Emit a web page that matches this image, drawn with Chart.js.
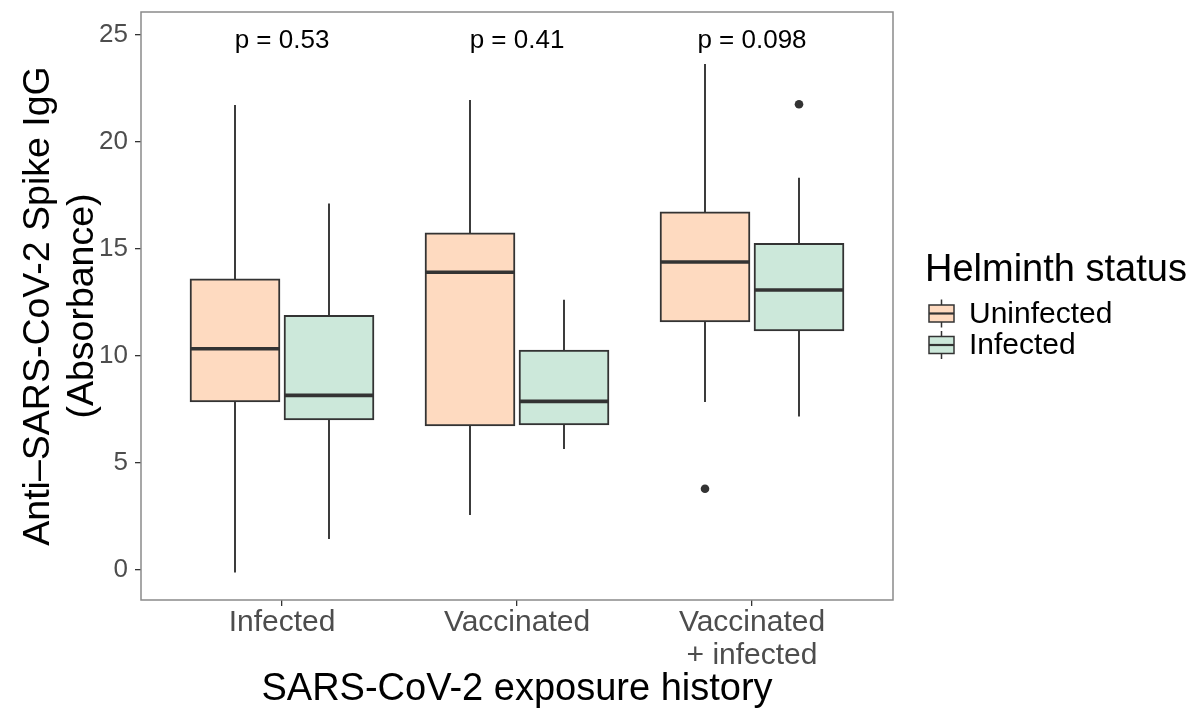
<!DOCTYPE html>
<html>
<head>
<meta charset="utf-8">
<script src="https://cdn.jsdelivr.net/npm/chart.js@4.4.1/dist/chart.umd.min.js"></script>
<style>
  html, body { margin: 0; padding: 0; background: #fff; }
</style>
</head>
<body>
<canvas id="chart" width="1198" height="711"></canvas>
<script>
// exposure groups on the x axis
const groups = ['Infected', 'Vaccinated', ['Vaccinated', '+ infected']];
const seriesNames = ['Uninfected', 'Infected'];
const seriesColors = ['#FEDAC0', '#CCE8DA'];

// Uninfected (helminth) box stats, one entry per exposure group
const uninfLow = [-0.12, 2.57, 7.85];
const uninfQ1 = [7.85, 6.73, 11.59];
const uninfMedian = [10.34, 13.91, 14.39];
const uninfQ3 = [13.6, 15.75, 16.73];
const uninfHigh = [21.73, 21.96, 23.64];
const uninfOutliers = [[], [], [3.8]];

// Infected (helminth) box stats
const infLow = [1.45, 5.65, 7.17];
const infQ1 = [7.01, 6.78, 11.17];
const infMedian = [8.16, 7.88, 13.08];
const infQ3 = [11.9, 10.28, 15.26];
const infHigh = [17.12, 12.63, 18.33];
const infOutliers = [[], [], [21.76]];

const pValues = ['p = 0.53', 'p = 0.41', 'p = 0.098'];
const pLabelY = 24.7;
const yTicks = [0, 5, 10, 15, 20, 25];

const FONT = "'Liberation Sans', Arial, Helvetica, sans-serif";
const dodge = 0.2;
const boxLine = '#333333';

function boxDataset(k, q1, med, q3, low, high) {
    const shift = k === 0 ? -dodge : dodge;
    return {
        label: seriesNames[k],
        data: groups.map((g, i) => ({ x: i + shift, y: [q1[i], q3[i]] })),
        backgroundColor: seriesColors[k],
        borderColor: boxLine,
        borderWidth: 2,
        borderSkipped: false,
        grouped: false,
        barPercentage: 1,
        categoryPercentage: 1,
        maxBarThickness: 90,
        stats: { low, q1, med, q3, high },
        order: 2,
    };
}

function outlierDataset(k, outliers) {
    const shift = k === 0 ? -dodge : dodge;
    return {
        type: 'scatter',
        label: seriesNames[k] + ' outliers',
        data: outliers.flatMap((arr, i) => arr.map(v => ({ x: i + shift, y: v }))),
        backgroundColor: boxLine,
        borderWidth: 0,
        pointRadius: 4.3,
        order: 1,
    };
}

const boxParts = {
    id: 'boxParts',
    afterDatasetsDraw(chart) {
        const { ctx, scales: { y } } = chart;
        ctx.save();
        ctx.strokeStyle = boxLine;
        chart.data.datasets.forEach((ds, di) => {
            if (!ds.stats) return;
            const s = ds.stats;
            chart.getDatasetMeta(di).data.forEach((bar, i) => {
                const cx = bar.x;
                const half = bar.width / 2;
                ctx.lineWidth = 1.9;
                ctx.beginPath();
                ctx.moveTo(cx, y.getPixelForValue(s.high[i]));
                ctx.lineTo(cx, y.getPixelForValue(s.q3[i]));
                ctx.moveTo(cx, y.getPixelForValue(s.q1[i]));
                ctx.lineTo(cx, y.getPixelForValue(s.low[i]));
                ctx.stroke();
                const ym = y.getPixelForValue(s.med[i]);
                ctx.lineWidth = 3.6;
                ctx.beginPath();
                ctx.moveTo(cx - half + 1, ym);
                ctx.lineTo(cx + half - 1, ym);
                ctx.stroke();
            });
        });
        // p-value labels above each group
        ctx.fillStyle = '#000';
        ctx.font = '26px ' + FONT;
        ctx.textAlign = 'center';
        ctx.textBaseline = 'middle';
        pValues.forEach((p, i) => {
            ctx.fillText(p, chart.scales.x.getPixelForValue(i), y.getPixelForValue(pLabelY));
        });
        ctx.restore();
    },
    afterDraw(chart) {
        const { ctx, chartArea: a } = chart;
        ctx.save();
        // panel border
        ctx.strokeStyle = '#8A8A8A';
        ctx.lineWidth = 1.5;
        ctx.strokeRect(a.left, a.top, a.right - a.left, a.bottom - a.top);

        // legend
        ctx.fillStyle = '#000';
        ctx.font = '38px ' + FONT;
        ctx.textAlign = 'left';
        ctx.textBaseline = 'alphabetic';
        ctx.fillText('Helminth status', 925, 281);
        ctx.font = '30px ' + FONT;
        ctx.textBaseline = 'middle';
        seriesNames.forEach((name, k) => {
            const cy = 313.5 + k * 31.5;
            const cx = 941.5;
            ctx.strokeStyle = boxLine;
            ctx.lineWidth = 1.5;
            ctx.beginPath();
            ctx.moveTo(cx, cy - 14);
            ctx.lineTo(cx, cy + 14);
            ctx.stroke();
            ctx.fillStyle = seriesColors[k];
            ctx.fillRect(cx - 12.5, cy - 8.5, 25, 17);
            ctx.strokeRect(cx - 12.5, cy - 8.5, 25, 17);
            ctx.lineWidth = 2.2;
            ctx.beginPath();
            ctx.moveTo(cx - 12.5, cy);
            ctx.lineTo(cx + 12.5, cy);
            ctx.stroke();
            ctx.fillStyle = '#000';
            ctx.fillText(name, 969, cy + 1);
        });
        ctx.restore();
    }
};

new Chart(document.getElementById('chart'), {
    type: 'bar',
    data: {
        datasets: [
            boxDataset(0, uninfQ1, uninfMedian, uninfQ3, uninfLow, uninfHigh),
            boxDataset(1, infQ1, infMedian, infQ3, infLow, infHigh),
            outlierDataset(0, uninfOutliers),
            outlierDataset(1, infOutliers),
        ],
    },
    options: {
        animation: false,
        responsive: false,
        devicePixelRatio: 1,
        layout: { padding: { left: 0, top: 12, right: 305, bottom: 0 } },
        plugins: {
            legend: { display: false },
            tooltip: { enabled: false },
        },
        scales: {
            x: {
                type: 'linear',
                min: -0.6,
                max: 2.6,
                offset: false,
                afterBuildTicks: s => { s.ticks = groups.map((g, i) => ({ value: i })); },
                afterFit: s => { s.height = 111; s.paddingLeft = 0; s.paddingRight = 0; },
                grid: { offset: false, drawOnChartArea: false, drawTicks: true, tickLength: 6, color: '#333', lineWidth: 1.3 },
                border: { display: false },
                ticks: {
                    callback: v => groups[v],
                    color: '#4D4D4D',
                    font: { family: FONT, size: 30, lineHeight: 1.1 },
                    padding: 0,
                    maxRotation: 0,
                    autoSkip: false,
                },
                title: {
                    display: true,
                    text: 'SARS-CoV-2 exposure history',
                    color: '#000',
                    font: { family: FONT, size: 38, lineHeight: 1 },
                    padding: { top: 0, bottom: 2 },
                },
            },
            y: {
                min: -1.4,
                max: 26.07,
                afterBuildTicks: s => { s.ticks = yTicks.map(v => ({ value: v })); },
                afterFit: s => { s.width = 141; s.paddingTop = 0; s.paddingBottom = 0; },
                grid: { drawOnChartArea: false, drawTicks: true, tickLength: 6, color: '#333', lineWidth: 1.3 },
                border: { display: false },
                ticks: { color: '#4D4D4D', font: { family: FONT, size: 26 }, padding: 7 },
                title: {
                    display: true,
                    text: ['Anti\u2013SARS-CoV-2 Spike IgG', '(Absorbance)'],
                    color: '#000',
                    font: { family: FONT, size: 37.5, lineHeight: 1.16 },
                    padding: { top: 17, bottom: 0 },
                },
            },
        },
    },
    plugins: [boxParts],
});
</script>
</body>
</html>
